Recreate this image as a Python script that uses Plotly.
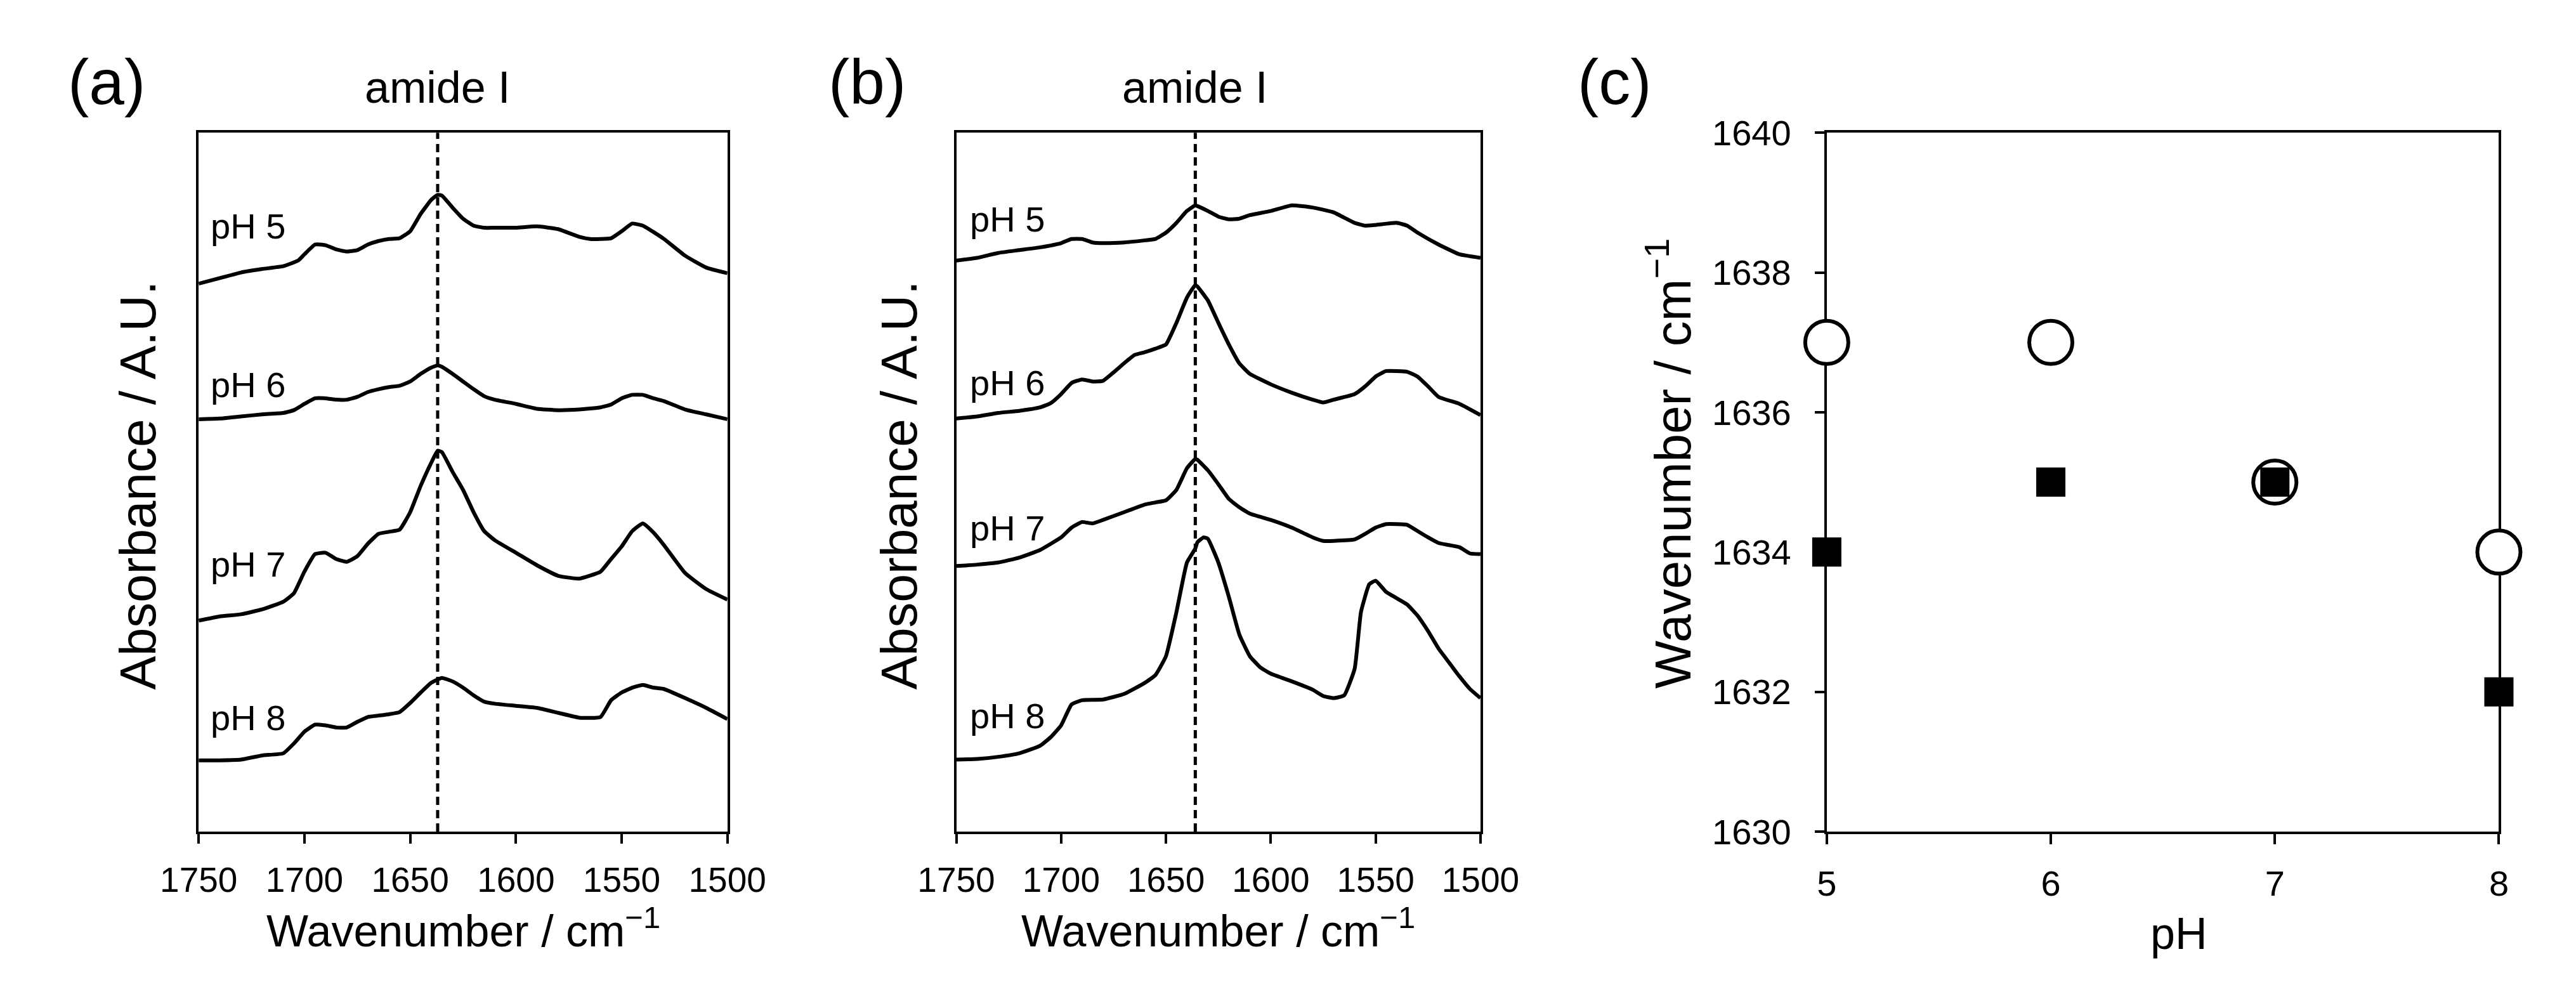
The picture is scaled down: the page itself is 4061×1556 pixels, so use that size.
import plotly.graph_objects as go

# ---- panel (a): spectra, wavenumber (cm-1) vs absorbance (offset, A.U.) ----
wn_a_ph5 = [1750, 1740, 1730, 1720, 1710, 1703, 1700, 1695, 1690, 1685, 1680, 1675, 1670, 1665, 1660, 1655, 1650,
            1645, 1640, 1637, 1635, 1630, 1625, 1620, 1615, 1610, 1600, 1590, 1580, 1570, 1565, 1560, 1555, 1550,
            1545, 1540, 1535, 1530, 1520, 1510, 1500]
abs_a_ph5 = [7.84, 7.92, 8.00, 8.05, 8.09, 8.17, 8.26, 8.40, 8.39, 8.33, 8.30, 8.32, 8.40, 8.45, 8.48, 8.49, 8.59,
             8.84, 9.04, 9.11, 9.10, 8.93, 8.77, 8.67, 8.64, 8.64, 8.64, 8.66, 8.62, 8.51, 8.48, 8.48, 8.49, 8.59,
             8.70, 8.67, 8.58, 8.48, 8.24, 8.07, 7.99]

wn_a_ph6 = [1750, 1740, 1730, 1720, 1710, 1705, 1700, 1695, 1690, 1685, 1680, 1675, 1670, 1665, 1660, 1655, 1650,
            1645, 1640, 1637, 1635, 1630, 1625, 1620, 1615, 1610, 1600, 1590, 1580, 1570, 1560, 1555, 1550, 1545,
            1540, 1535, 1530, 1520, 1510, 1500]
abs_a_ph6 = [5.90, 5.91, 5.94, 5.97, 5.99, 6.03, 6.12, 6.20, 6.20, 6.18, 6.18, 6.22, 6.29, 6.33, 6.36, 6.38, 6.44,
             6.55, 6.64, 6.67, 6.65, 6.55, 6.44, 6.33, 6.23, 6.18, 6.12, 6.05, 6.03, 6.04, 6.07, 6.11, 6.20, 6.25,
             6.25, 6.20, 6.16, 6.04, 5.97, 5.90]

wn_a_ph7 = [1750, 1740, 1730, 1720, 1710, 1705, 1700, 1695, 1690, 1685, 1680, 1675, 1670, 1665, 1660, 1655, 1650,
            1645, 1640, 1637, 1635, 1630, 1625, 1620, 1615, 1610, 1600, 1590, 1580, 1570, 1560, 1555, 1550, 1545,
            1540, 1535, 1530, 1520, 1510, 1500]
abs_a_ph7 = [3.02, 3.08, 3.11, 3.18, 3.29, 3.41, 3.72, 3.97, 3.99, 3.90, 3.86, 3.94, 4.12, 4.26, 4.29, 4.32, 4.57,
             4.95, 5.28, 5.45, 5.43, 5.15, 4.89, 4.57, 4.30, 4.17, 3.99, 3.81, 3.66, 3.62, 3.72, 3.90, 4.08, 4.30,
             4.41, 4.28, 4.10, 3.70, 3.47, 3.32]

wn_a_ph8 = [1750, 1740, 1730, 1720, 1710, 1705, 1700, 1695, 1690, 1685, 1680, 1675, 1670, 1665, 1660, 1655, 1650,
            1645, 1640, 1635, 1630, 1625, 1620, 1615, 1610, 1600, 1590, 1580, 1570, 1560, 1555, 1550, 1545, 1540,
            1535, 1530, 1520, 1510, 1500]
abs_a_ph8 = [1.02, 1.02, 1.03, 1.09, 1.12, 1.26, 1.43, 1.53, 1.52, 1.49, 1.49, 1.57, 1.64, 1.66, 1.68, 1.71, 1.84,
             1.99, 2.13, 2.20, 2.15, 2.06, 1.95, 1.86, 1.83, 1.80, 1.77, 1.70, 1.63, 1.64, 1.88, 1.99, 2.06, 2.10,
             2.06, 2.04, 1.91, 1.77, 1.61]

# ---- panel (b) ----
wn_b_ph5 = [1750, 1740, 1730, 1720, 1710, 1700, 1695, 1690, 1685, 1680, 1670, 1660, 1655, 1650, 1645, 1640, 1636,
            1635, 1630, 1625, 1620, 1615, 1610, 1600, 1590, 1580, 1570, 1560, 1555, 1550, 1540, 1535, 1530, 1520,
            1510, 1500]
abs_b_ph5 = [8.17, 8.21, 8.28, 8.32, 8.36, 8.42, 8.48, 8.48, 8.43, 8.42, 8.43, 8.46, 8.48, 8.57, 8.71, 8.88, 8.96,
             8.95, 8.88, 8.80, 8.76, 8.77, 8.82, 8.88, 8.96, 8.93, 8.86, 8.71, 8.67, 8.68, 8.71, 8.67, 8.57, 8.40,
             8.26, 8.21]

wn_b_ph6 = [1750, 1740, 1730, 1720, 1710, 1705, 1700, 1695, 1690, 1685, 1680, 1675, 1670, 1665, 1660, 1655, 1650,
            1645, 1640, 1636, 1635, 1630, 1625, 1620, 1615, 1610, 1600, 1590, 1580, 1575, 1570, 1560, 1555, 1550,
            1545, 1540, 1535, 1530, 1525, 1520, 1510, 1500]
abs_b_ph6 = [5.91, 5.94, 5.99, 6.02, 6.07, 6.13, 6.26, 6.42, 6.47, 6.44, 6.45, 6.57, 6.70, 6.82, 6.86, 6.91, 6.97,
             7.28, 7.64, 7.82, 7.80, 7.60, 7.28, 6.97, 6.70, 6.55, 6.40, 6.28, 6.18, 6.14, 6.18, 6.26, 6.37, 6.51,
             6.59, 6.59, 6.58, 6.51, 6.37, 6.22, 6.12, 5.96]

wn_b_ph7 = [1750, 1740, 1730, 1720, 1710, 1700, 1695, 1690, 1685, 1680, 1670, 1660, 1655, 1650, 1645, 1640, 1636,
            1635, 1630, 1625, 1620, 1615, 1610, 1600, 1590, 1580, 1575, 1570, 1560, 1555, 1550, 1545, 1540, 1535,
            1530, 1525, 1520, 1515, 1510, 1505, 1500]
abs_b_ph7 = [3.80, 3.82, 3.85, 3.92, 4.03, 4.21, 4.35, 4.43, 4.41, 4.46, 4.57, 4.68, 4.71, 4.74, 4.89, 5.20, 5.33,
             5.32, 5.17, 4.97, 4.76, 4.64, 4.55, 4.46, 4.35, 4.21, 4.16, 4.16, 4.18, 4.26, 4.35, 4.40, 4.40, 4.39,
             4.30, 4.21, 4.13, 4.10, 4.07, 3.98, 3.97]

wn_b_ph8 = [1750, 1740, 1730, 1720, 1710, 1705, 1700, 1695, 1690, 1680, 1670, 1660, 1655, 1650, 1645, 1640, 1636,
            1635, 1632, 1630, 1625, 1620, 1615, 1610, 1605, 1600, 1590, 1580, 1575, 1570, 1565, 1560, 1557, 1553,
            1550, 1545, 1540, 1535, 1530, 1525, 1520, 1515, 1510, 1505, 1500]
abs_b_ph8 = [1.03, 1.04, 1.07, 1.12, 1.23, 1.35, 1.52, 1.82, 1.88, 1.89, 1.97, 2.13, 2.24, 2.51, 3.14, 3.85, 4.05,
             4.14, 4.21, 4.19, 3.85, 3.36, 2.82, 2.51, 2.35, 2.26, 2.15, 2.03, 1.94, 1.91, 1.95, 2.33, 3.14, 3.54,
             3.59, 3.43, 3.34, 3.25, 3.09, 2.87, 2.62, 2.42, 2.22, 2.04, 1.91]

ph_labels = ["pH 5", "pH 6", "pH 7", "pH 8"]
label_y_a = [8.66, 6.39, 3.83, 1.63]
label_y_b = [8.76, 6.42, 4.34, 1.66]
amide_a = 1637
amide_b = 1636

# ---- panel (c): amide I peak position vs pH ----
ph = [5, 6, 7, 8]
peak_open = [1637, 1637, 1635, 1634]
peak_filled = [1634, 1635, 1635, 1632]

FONT = "Liberation Sans, Arial, sans-serif"
W, H = 4061, 1556

fig = go.Figure()

line = dict(color="black", width=6, shape="spline", smoothing=0.4)
for wn, ab in [(wn_a_ph5, abs_a_ph5), (wn_a_ph6, abs_a_ph6), (wn_a_ph7, abs_a_ph7), (wn_a_ph8, abs_a_ph8)]:
    fig.add_trace(go.Scatter(x=wn, y=ab, mode="lines", line=line, xaxis="x", yaxis="y", showlegend=False))
for wn, ab in [(wn_b_ph5, abs_b_ph5), (wn_b_ph6, abs_b_ph6), (wn_b_ph7, abs_b_ph7), (wn_b_ph8, abs_b_ph8)]:
    fig.add_trace(go.Scatter(x=wn, y=ab, mode="lines", line=line, xaxis="x2", yaxis="y2", showlegend=False))

fig.add_trace(go.Scatter(x=ph, y=peak_open, mode="markers", xaxis="x3", yaxis="y3", showlegend=False,
                         cliponaxis=False,
                         marker=dict(symbol="circle", size=68, color="white", line=dict(color="black", width=6))))
fig.add_trace(go.Scatter(x=ph, y=peak_filled, mode="markers", xaxis="x3", yaxis="y3", showlegend=False,
                         cliponaxis=False,
                         marker=dict(symbol="square", size=46, color="black", line=dict(color="black", width=0))))

# dashed amide I lines
fig.add_shape(type="line", xref="x", yref="y domain", x0=amide_a, x1=amide_a, y0=0, y1=1,
              line=dict(color="black", width=5, dash="13px,8px"))
fig.add_shape(type="line", xref="x2", yref="y2 domain", x0=amide_b, x1=amide_b, y0=0, y1=1,
              line=dict(color="black", width=5, dash="13px,8px"))

dom_y = [0.148, 0.886]
spec_x = dict(range=[1750, 1500], tickvals=[1750, 1700, 1650, 1600, 1550, 1500], ticks="outside", ticklen=15,
              tickwidth=4, tickcolor="black", showline=True, linewidth=4, linecolor="black", mirror=True,
              showgrid=False, zeroline=False, ticklabelstandoff=10,
              tickfont=dict(size=55, color="black", family=FONT))
spec_y = dict(range=[0, 10], showticklabels=False, ticks="", showline=True, linewidth=4, linecolor="black",
              mirror=True, showgrid=False, zeroline=False, domain=dom_y)

fig.update_layout(
    width=W, height=H, margin=dict(l=0, r=0, t=0, b=0),
    paper_bgcolor="white", plot_bgcolor="white",
    font=dict(family=FONT, color="black"),
    xaxis=dict(spec_x, domain=[0.0620, 0.2736], anchor="y"),
    yaxis=dict(spec_y, anchor="x"),
    xaxis2=dict(spec_x, domain=[0.3652, 0.5750], anchor="y2"),
    yaxis2=dict(spec_y, anchor="x2"),
    xaxis3=dict(range=[5, 8], tickvals=ph, ticks="outside", ticklen=16, tickwidth=4, tickcolor="black",
                showline=True, linewidth=4, linecolor="black", mirror=True, showgrid=False, zeroline=False,
                layer="below traces", domain=[0.7136, 0.9826], anchor="y3", ticklabelstandoff=14,
                tickfont=dict(size=56, color="black", family=FONT)),
    yaxis3=dict(range=[1630, 1640], tickvals=[1630, 1632, 1634, 1636, 1638, 1640], ticks="outside", ticklen=15,
                tickwidth=4, tickcolor="black", showline=True, linewidth=4, linecolor="black", mirror=True,
                showgrid=False, zeroline=False, layer="below traces", domain=dom_y, anchor="x3",
                ticklabelstandoff=26, tickfont=dict(size=56, color="black", family=FONT)),
)

ann = []
for txt, xp in [("(a)", 0.0251), ("(b)", 0.3295), ("(c)", 0.6286)]:
    ann.append(dict(text=txt, x=xp, y=0.940, xref="paper", yref="paper", showarrow=False,
                    font=dict(size=100), xanchor="center", yanchor="middle"))
ann.append(dict(text="amide I", x=amide_a, y=0.934, xref="x", yref="paper", showarrow=False,
                font=dict(size=70), xanchor="center", yanchor="middle"))
ann.append(dict(text="amide I", x=amide_b, y=0.934, xref="x2", yref="paper", showarrow=False,
                font=dict(size=70), xanchor="center", yanchor="middle"))
for lab, ya, yb in zip(ph_labels, label_y_a, label_y_b):
    ann.append(dict(text=lab, x=1745, y=ya, xref="x", yref="y", showarrow=False, font=dict(size=56),
                    xanchor="left", yanchor="middle"))
    ann.append(dict(text=lab, x=1744, y=yb, xref="x2", yref="y2", showarrow=False, font=dict(size=56),
                    xanchor="left", yanchor="middle"))
# axis titles
for xc in [0.168, 0.470]:
    ann.append(dict(text="Wavenumber / cm<sup>−1</sup>", x=xc, y=0.046, xref="paper", yref="paper",
                    showarrow=False, font=dict(size=70), xanchor="center", yanchor="middle"))
for xc in [0.0378, 0.3424]:
    ann.append(dict(text="Absorbance / A.U.", x=xc, y=0.514, xref="paper", yref="paper", textangle=-90,
                    showarrow=False, font=dict(size=80), xanchor="center", yanchor="middle"))
ann.append(dict(text="Wavenumber / cm<sup>−1</sup>", x=0.6505, y=0.537, xref="paper", yref="paper",
                textangle=-90, showarrow=False, font=dict(size=80), xanchor="center", yanchor="middle"))
ann.append(dict(text="pH", x=0.8545, y=0.040, xref="paper", yref="paper",
                showarrow=False, font=dict(size=70), xanchor="center", yanchor="middle"))
fig.update_layout(annotations=ann)

fig.write_html("out.html")
